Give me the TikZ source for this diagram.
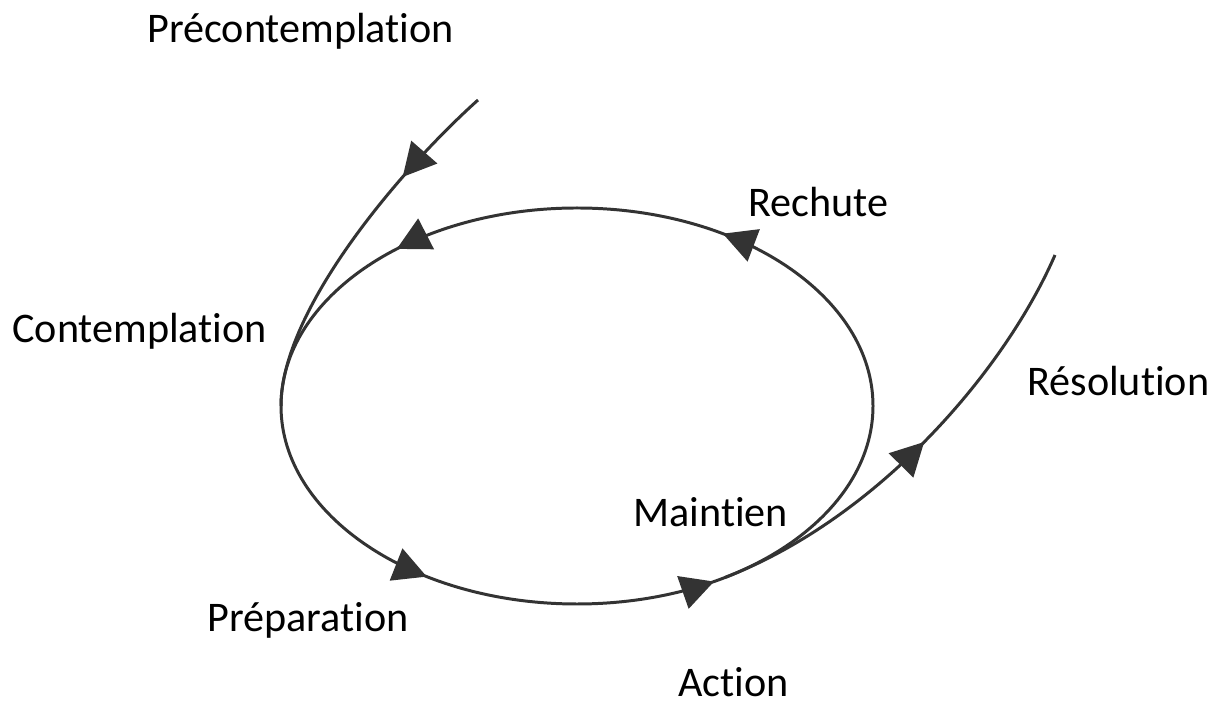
\documentclass[tikz,border=0pt]{standalone}
\usepackage{fontspec}
\setmainfont{Carlito}[Ligatures=NoCommon]
\usetikzlibrary{arrows.meta,calc,decorations,decorations.markings}

\tikzset{stagetip/.tip={Triangle[length=0.66cm,width=0.68cm]}}

\begin{document}
\begin{tikzpicture}[x=0.02cm,y=0.02cm,
  flow/.style={line width=1.7pt,color=black!80},
  lbl/.style={anchor=base west,inner sep=0pt,font=\fontsize{24}{28}\selectfont}]

\useasboundingbox (0,0) rectangle (1223,706);

% the cycle
\coordinate (c) at (577,300);
\draw[flow,postaction={decorate},decoration={markings,
  mark=at position 0.155 with {\arrow{stagetip}},
  mark=at position 0.369 with {\arrow{stagetip}},
  mark=at position 0.652 with {\arrow{stagetip}},
  mark=at position 0.839 with {\arrow{stagetip}}}]
  (c) ellipse [x radius=296, y radius=198];

% way in
\coordinate (entry) at (478,606);
\coordinate (left) at (281,300);
\draw[flow,postaction={decorate},decoration={markings,
  mark=at position 0.29 with {\arrow{stagetip}}}]
  (entry) .. controls (400,536) and (281,396) .. (left);

% way out
\coordinate (leave) at ($(c)+(300:296 and 198)$);
\coordinate (exit) at (1055,451);
\draw[flow,postaction={decorate},decoration={markings,
  mark=at position 0.514 with {\arrow{stagetip}}}]
  (leave) .. controls (879,188) and (1005,336) .. (exit);

% stages
\node[lbl] (precont) at (147,663) {Précontemplation};
\node[lbl] (cont)    at (12,363)  {Contemplation};
\node[lbl] (prep)    at (207,74)  {Préparation};
\node[lbl] (act)     at (678,10)  {Action};
\node[lbl] (maint)   at (633,179) {Maintien};
\node[lbl] (rech)    at (748,489) {Rechute};
\node[lbl] (resol)   at (1027,310) {Résolution};
\end{tikzpicture}
\end{document}
